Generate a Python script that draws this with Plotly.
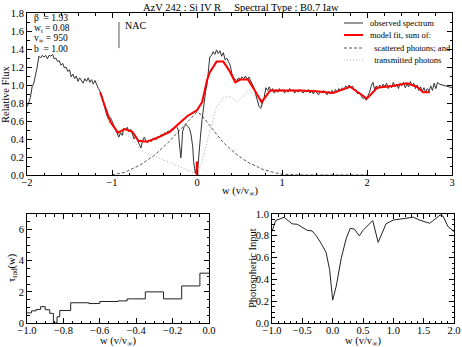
import plotly.graph_objects as go

# ---------------- data ----------------
obs_x = [-2.00,-1.98,-1.96,-1.94,-1.92,-1.90,-1.88,-1.86,-1.84,-1.82,-1.80,-1.78,-1.76,-1.74,-1.72,-1.70,-1.68,-1.66,-1.64,-1.62,
         -1.60,-1.58,-1.56,-1.54,-1.52,-1.50,-1.48,-1.46,-1.44,-1.42,-1.40,-1.38,-1.36,-1.34,-1.32,-1.30,-1.28,-1.26,-1.24,-1.22,
         -1.20,-1.18,-1.16,-1.14,-1.12,-1.10,-1.08,-1.06,-1.04,-1.02,-1.00,-0.98,-0.96,-0.94,-0.92,-0.90,-0.88,-0.86,-0.84,-0.82,
         -0.80,-0.78,-0.76,-0.74,-0.72,-0.70,-0.68,-0.66,-0.64,-0.62,-0.60,-0.58,-0.56,-0.54,-0.52,-0.50,-0.48,-0.46,-0.44,-0.42,
         -0.40,-0.38,-0.36,-0.34,-0.32,-0.30,-0.28,-0.26,-0.24,-0.22,-0.21,-0.20,-0.19,-0.18,-0.17,-0.15,-0.13,-0.11,-0.09,-0.07,
         -0.05,-0.04,-0.03,-0.02,-0.01,0.00,0.01,0.02,0.04,0.06,0.08,0.10,0.12,0.14,0.15,0.17,0.19,0.21,0.23,0.25,
         0.27,0.29,0.31,0.33,0.35,0.37,0.39,0.41,0.43,0.45,0.47,0.49,0.51,0.53,0.55,0.57,0.59,0.61,0.63,0.65,
         0.67,0.69,0.71,0.73,0.75,0.77,0.79,0.81,0.83,0.85,0.87,0.89,0.91,0.93,0.95,0.97,0.99,1.01,1.03,1.05,
         1.07,1.09,1.11,1.13,1.15,1.17,1.19,1.21,1.23,1.25,1.27,1.29,1.31,1.33,1.35,1.37,1.39,1.41,1.43,1.45,
         1.47,1.49,1.51,1.53,1.55,1.57,1.59,1.61,1.63,1.65,1.67,1.69,1.71,1.73,1.75,1.77,1.79,1.81,1.83,1.85,
         1.87,1.89,1.91,1.93,1.95,1.97,1.99,2.01,2.03,2.05,2.07,2.09,2.11,2.13,2.15,2.17,2.19,2.21,2.23,2.25,
         2.27,2.29,2.31,2.33,2.35,2.37,2.39,2.41,2.43,2.45,2.47,2.49,2.51,2.53,2.55,2.57,2.59,2.61,2.63,2.65,
         2.67,2.69,2.71,2.73,2.75,2.77,2.79,2.81,2.83,2.85,3.00]
obs_y = [0.76,0.80,0.86,0.98,1.02,1.10,1.20,1.32,1.30,1.33,1.31,1.33,1.29,1.33,1.32,1.34,1.29,1.30,1.26,1.27,
         1.22,1.24,1.19,1.20,1.15,1.17,1.09,1.12,1.07,1.10,1.04,1.08,1.05,1.02,1.07,1.04,1.08,1.03,1.06,1.01,
         1.05,1.00,0.96,0.93,0.88,0.80,0.72,0.66,0.62,0.64,0.60,0.55,0.50,0.46,0.42,0.47,0.44,0.52,0.50,0.53,
         0.48,0.51,0.44,0.40,0.43,0.38,0.33,0.30,0.38,0.42,0.38,0.36,0.39,0.37,0.40,0.41,0.39,0.43,0.42,0.45,
         0.44,0.47,0.46,0.49,0.48,0.51,0.50,0.53,0.54,0.50,0.38,0.25,0.19,0.30,0.48,0.54,0.56,0.54,0.52,0.45,
         0.31,0.15,0.04,0.02,0.06,0.04,0.08,0.22,0.42,0.62,0.80,0.92,1.02,1.22,1.31,1.33,1.37,1.34,1.39,1.35,
         1.38,1.32,1.36,1.28,1.30,1.26,1.22,1.13,1.08,1.06,1.05,1.08,1.06,1.09,1.07,1.10,1.06,1.09,1.05,1.02,
         0.97,0.90,0.82,0.76,0.74,0.80,0.86,0.97,0.94,0.98,0.93,0.96,0.91,0.95,0.92,0.96,0.93,0.95,0.91,0.94,
         0.92,0.96,0.93,0.95,0.91,0.94,0.92,0.95,0.93,0.91,0.94,0.92,0.95,0.91,0.93,0.90,0.94,0.92,0.89,0.93,
         0.91,0.94,0.92,0.89,0.93,0.90,0.94,0.91,0.95,0.92,0.96,0.94,0.97,0.95,0.99,0.96,1.00,0.97,0.99,0.94,
         0.95,0.90,0.92,0.88,0.85,0.86,0.83,0.88,0.92,0.99,1.03,0.95,0.99,0.96,1.00,0.97,1.01,0.98,1.02,0.96,
         1.00,0.97,1.03,0.98,1.01,0.96,1.02,0.99,1.03,0.97,1.01,0.98,1.04,0.99,1.02,0.96,1.00,0.94,0.98,0.93,
         0.97,0.92,0.96,0.93,0.99,0.94,1.02,0.96,1.03,1.01,0.97]

fit_x = [-1.14,-1.02,-0.93,-0.85,-0.76,-0.69,-0.59,-0.45,-0.32,-0.22,-0.12,0.00,0.06,0.12,0.15,0.23,0.31,0.38,0.45,0.51,
         0.60,0.68,0.76,0.86,0.98,1.21,1.40,1.60,1.80,2.00,2.12,2.30,2.47,2.59,2.66,2.74]
fit_y = [0.92,0.59,0.47,0.51,0.48,0.38,0.37,0.42,0.48,0.56,0.65,0.72,0.81,1.06,1.14,1.26,1.26,1.16,1.03,1.06,
         1.06,0.94,0.81,0.94,0.94,0.94,0.93,0.91,0.98,0.85,0.97,0.99,1.02,0.98,0.92,0.92]

scat_x = [-1.00,-0.85,-0.67,-0.50,-0.35,-0.20,-0.12,-0.05,0.00,0.05,0.15,0.30,0.45,0.60,0.78,0.98,1.20,1.50,2.00]
scat_y = [0.00,0.03,0.11,0.22,0.35,0.50,0.58,0.65,0.70,0.67,0.55,0.37,0.24,0.14,0.06,0.01,0.00,0.00,0.00]

trans_x = [-1.14,-1.02,-0.93,-0.85,-0.76,-0.67,-0.50,-0.35,-0.20,-0.10,0.00,0.05,0.09,0.14,0.19,0.23,0.31,0.39,0.47,0.54,
           0.62,0.68,0.76,0.86,0.98]
trans_y = [0.92,0.59,0.45,0.46,0.40,0.28,0.21,0.15,0.09,0.05,0.01,0.12,0.28,0.45,0.61,0.76,0.86,0.87,0.81,0.87,
           0.94,0.88,0.76,0.91,0.93]

nac_x = [-0.918, -0.918]
nac_y = [1.41, 1.70]
zero_x = [0.0, 0.0]
zero_y = [0.0, 0.15]

tau_edges = [-1.0,-0.975,-0.95,-0.925,-0.9,-0.875,-0.855,-0.835,-0.82,-0.76,-0.66,-0.60,-0.50,-0.45,-0.42,-0.35,-0.25,-0.15,-0.05,0.0]
tau_vals = [0.65,0.78,0.87,1.05,0.85,0.62,0.0,0.4,0.8,1.3,1.25,1.38,1.42,1.55,1.55,2.0,1.55,2.38,3.2]

phot_x = [-1.0,-0.94,-0.80,-0.67,-0.58,-0.42,-0.34,-0.27,-0.19,-0.11,-0.05,0.00,0.06,0.14,0.22,0.29,0.36,0.44,0.50,0.60,
          0.66,0.75,0.88,1.00,1.33,1.43,1.60,1.77,1.82,1.90,2.00]
phot_y = [0.84,0.94,0.97,0.91,0.905,0.85,0.845,0.80,0.73,0.65,0.49,0.21,0.34,0.59,0.77,0.87,0.86,0.80,0.85,0.91,
          0.94,0.74,0.91,0.945,0.97,0.945,0.915,0.99,0.98,0.885,0.84]

params = ["β  = 1.93", "w<sub>t</sub> = 0.08", "v<sub>∞</sub> = 950", "b  = 1.00"]
legend_labels = ["observed spectrum", "model fit, sum of:", " scattered photons; and", " transmitted photons"]

# ---------------- figure ----------------
W, H = 462, 347
FONT = "Liberation Serif"
fig = go.Figure()

fig.add_trace(go.Scatter(x=scat_x, y=scat_y, mode="lines", line=dict(color="#555", width=1, dash="3px,2px"), xaxis="x", yaxis="y"))
fig.add_trace(go.Scatter(x=trans_x, y=trans_y, mode="lines", line=dict(color="#aaa", width=1, dash="1px,2px"), xaxis="x", yaxis="y"))
fig.add_trace(go.Scatter(x=obs_x, y=obs_y, mode="lines", line=dict(color="#333", width=1), xaxis="x", yaxis="y"))
fig.add_trace(go.Scatter(x=fit_x, y=fit_y, mode="lines", line=dict(color="#ff0000", width=2), xaxis="x", yaxis="y"))
fig.add_trace(go.Scatter(x=nac_x, y=nac_y, mode="lines", line=dict(color="#555", width=1), xaxis="x", yaxis="y"))
fig.add_trace(go.Scatter(x=zero_x, y=zero_y, mode="lines", line=dict(color="#ff0000", width=2.5), xaxis="x", yaxis="y"))

fig.add_trace(go.Scatter(x=tau_edges, y=tau_vals + [tau_vals[-1]], mode="lines", line=dict(color="#222", width=1, shape="hv"),
                         xaxis="x2", yaxis="y2"))
fig.add_trace(go.Scatter(x=phot_x, y=phot_y, mode="lines", line=dict(color="#222", width=1), xaxis="x3", yaxis="y3"))


def px_x(p):
    return p / W


def px_y(p):
    return 1 - p / H


tickfont = dict(family=FONT, size=10.5, color="black")


def axis(domain, rng, dtick, minor, fmt=None, anchor=None, standoff=0):
    d = dict(domain=domain, range=rng, dtick=dtick, tick0=rng[0], showline=True, linecolor="black", linewidth=1,
             mirror="ticks", ticks="inside", ticklen=5, tickcolor="black", showgrid=False, zeroline=False,
             tickfont=tickfont, anchor=anchor, automargin=False, ticklabelstandoff=standoff,
             minor=dict(dtick=minor, ticks="inside", ticklen=2.5, tickcolor="black", showgrid=False))
    if fmt:
        d["tickformat"] = fmt
    return d


top_y = [px_y(175), px_y(13)]
bot_y = [px_y(323), px_y(214)]
fig.update_layout(
    width=W, height=H, margin=dict(l=0, r=0, t=0, b=0, pad=0), autosize=False,
    paper_bgcolor="white", plot_bgcolor="white", showlegend=False,
    xaxis=axis([px_x(27), px_x(452)], [-2, 3], 1, 0.2, anchor="y", standoff=-3),
    yaxis=axis(top_y, [0, 1.8], 0.2, 0.1, ".1f", anchor="x"),
    xaxis2=axis([px_x(27), px_x(209)], [-1, 0], 0.2, 0.05, ".1f", anchor="y2", standoff=-3),
    yaxis2=axis(bot_y, [0, 7], 2, 0.5, None, anchor="x2"),
    xaxis3=axis([px_x(272), px_x(454)], [-1, 2], 0.5, 0.1, ".1f", anchor="y3", standoff=-3),
    yaxis3=axis(bot_y, [0, 1.0], 0.2, 0.05, ".1f", anchor="x3"),
)

ann = []


def text(x, y, s, size=11, angle=0, xanchor="center"):
    ann.append(dict(x=px_x(x), y=px_y(y), xref="paper", yref="paper", text=s, showarrow=False, textangle=angle,
                    xanchor=xanchor, yanchor="middle", font=dict(family=FONT, size=size, color="black")))


text(241, 7, "AzV 242 : Si IV R     Spectral Type : B0.7 Iaw", 10.5)
text(240, 191, "w (v/v<sub>∞</sub>)", 10.5)
text(118, 341, "w (v/v<sub>∞</sub>)", 10.5)
text(363, 341, "w (v/v<sub>∞</sub>)", 10.5)
text(6, 94, "Relative Flux", 10.5, -90)
text(12, 268, "τ<sub>rad</sub>(w)", 10.5, -90)
text(252, 268, "Photospheric Input", 10.5, -90)
for i, s in enumerate(params):
    text(32, 18 + i * 10.3, s, 9.5, xanchor="left")
text(123, 25, "NAC", 10, xanchor="left")

leg_y = [23, 35, 48, 60]
leg_x = [368, 368, 370, 370]
for s, y, x in zip(legend_labels, leg_y, leg_x):
    text(x, y, s, 8.5, xanchor="left")

fig.update_layout(annotations=ann)

styles = [dict(color="#333", width=1), dict(color="#ff0000", width=2),
          dict(color="#555", width=1, dash="3px,2px"), dict(color="#aaa", width=1, dash="1px,2px")]
shapes = []
for y, st in zip(leg_y, styles):
    shapes.append(dict(type="line", xref="paper", yref="paper", x0=px_x(344), x1=px_x(363), y0=px_y(y), y1=px_y(y), line=st))
fig.update_layout(shapes=shapes)

fig.write_html("out.html", config={"displayModeBar": False},
               post_script="document.body.style.margin='0';document.body.style.padding='0';")
